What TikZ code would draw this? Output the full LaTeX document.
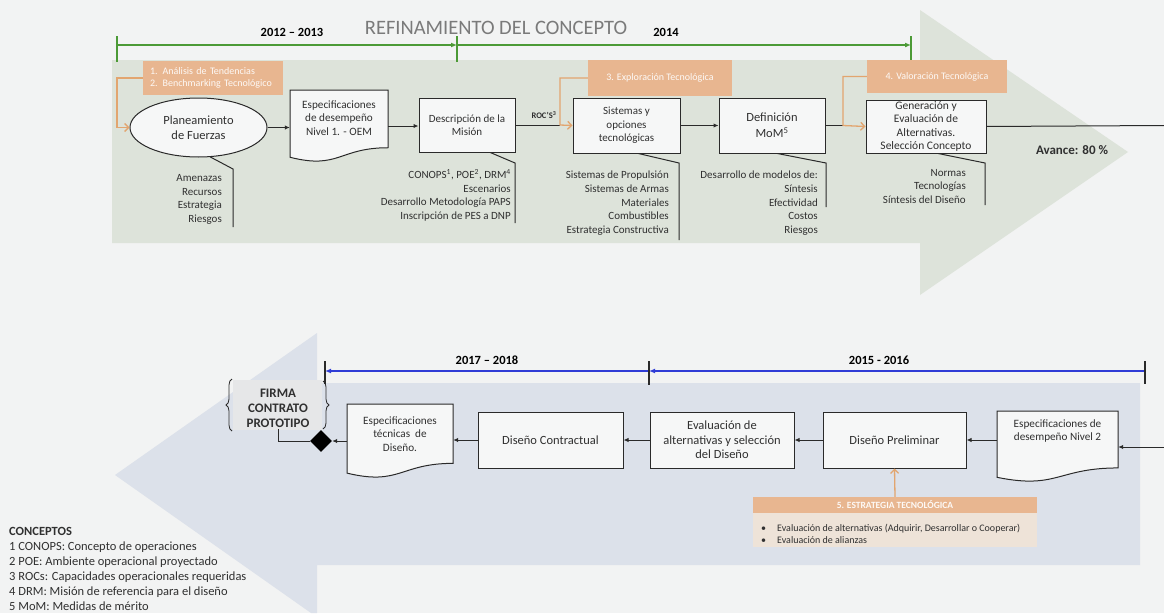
\documentclass[tikz,border=0pt]{standalone}
\usepackage{fontspec}
\setmainfont{Carlito}
\usetikzlibrary{arrows.meta,shapes.geometric,decorations.pathreplacing,calc}
\definecolor{bg}{HTML}{F2F3F3}
\definecolor{topbody}{HTML}{DDE3DA}
\definecolor{botbody}{HTML}{DCE1EA}
\definecolor{boxfill}{HTML}{F6F7F7}
\definecolor{boxline}{HTML}{2A2A2A}
\definecolor{txt}{HTML}{303030}
\definecolor{orng}{HTML}{E8B690}
\definecolor{orline}{HTML}{E2A56F}
\definecolor{orlight}{HTML}{EEE3D8}
\definecolor{grn}{HTML}{4C9A36}
\definecolor{blu}{HTML}{2F3CD6}
\definecolor{titlegray}{HTML}{7A7A7A}
\definecolor{firmafill}{HTML}{E6E7E8}
\newcommand\docshape[4]{%
  \draw[docst] (#1,#2) -- ({#1+#3},#2) -- ({#1+#3},{#2+0.802*#4})
    .. controls ({#1+0.5*#3},{#2+0.802*#4}) and ({#1+0.5*#3},{#2+1.107*#4}) ..
    (#1,{#2+0.934*#4}) -- cycle;}
\begin{document}
\begin{tikzpicture}[x=1pt,y=-1pt,
  bx/.style={draw=boxline, fill=boxfill, line width=1pt, align=center, inner sep=0pt, text=txt, font=\fontsize{11}{13.5}\selectfont},
  docst/.style={draw=boxline, fill=boxfill, line width=1pt},
  doctxt/.style={align=center, inner sep=0pt, text=txt, font=\fontsize{11.2}{13.5}\selectfont},
  ob/.style={fill=orng, text=white!92!orng, inner sep=0pt, font=\fontsize{10}{11.5}\selectfont},
  conn/.style={draw=boxline, line width=1pt, -{Latex[length=5pt,width=4.5pt]}},
  oconn/.style={draw=orline, line width=1.3pt, -{Straight Barb[length=4pt,width=8pt]}},
  call/.style={draw=boxline, line width=1pt},
  ctext/.style={align=right, inner sep=0pt, text=txt, anchor=north east, font=\fontsize{11}{13.6}\selectfont},
  yr/.style={inner sep=0pt, text=black, font=\bfseries\fontsize{12.5}{14}\selectfont},
  gline/.style={draw=grn, line width=2pt, -{Latex[length=6pt,width=5pt]}},
  gtick/.style={draw=grn, line width=1.5pt},
  bline/.style={draw=blu, line width=2pt, -{Latex[length=6pt,width=5pt]}},
  btick/.style={draw=boxline, line width=1.5pt}
]
\useasboundingbox (0,0) rectangle (1164,613);
\fill[bg] (0,0) rectangle (1164,613);
% big arrows
\fill[topbody] (112,60) -- (920,60) -- (920,10) -- (1128,152) -- (920,295) -- (920,243) -- (112,243) -- cycle;
\fill[botbody] (1140,383) -- (317,383) -- (317,333) -- (115,475) -- (311,613) -- (317,613) -- (317,565) -- (1140,565) -- cycle;

% green timeline
\coordinate (g0) at (117,45);
\coordinate (g1) at (457,45);
\coordinate (g2) at (911,45);
\draw[gline] (g0) -- (g1);
\draw[gline] (g1) -- (g2);
\draw[gtick] (117,36) -- (117,62);
\draw[gtick] (457,36) -- (457,62);
\draw[gtick] (911,36) -- (911,61);
\node[yr] (y1213) at (292,32) {2012 – 2013};
\node[inner sep=0pt, text=titlegray, font=\fontsize{20.5}{23}\selectfont] (title) at (496,28) {REFINAMIENTO DEL CONCEPTO};
\node[yr] (y14) at (666,32) {2014};

% top flow
\node[bx, shape=ellipse, minimum width=137pt, minimum height=59pt, font=\fontsize{12.5}{15.5}\selectfont] (ell) at (198.5,127.5) {Planeamiento\\de Fuerzas};
\node[inner sep=0pt, minimum width=98pt, minimum height=72pt] (doc1) at (339,126) {};
\docshape{290}{90}{98}{72}
\node[doctxt] (doc1t) at (339,118) {Especificaciones\\de desempeño\\Nivel 1. - OEM};
\node[bx, minimum width=96pt, minimum height=54pt] (desc) at (467,125) {Descripción de la\\Misión};
\node[bx, minimum width=107pt, minimum height=55pt] (sis) at (626.5,125.5) {Sistemas y\\opciones\\tecnológicas};
\node[bx, minimum width=106pt, minimum height=55pt, font=\fontsize{12.5}{16}\selectfont] (def) at (772,125.5) {Definición\\MoM\textsuperscript{5}};
\node[bx, minimum width=120pt, minimum height=53pt, font=\fontsize{11.5}{13.3}\selectfont] (gen) at (926,126.5) {Generación y\\Evaluación de\\Alternativas.\\Selección Concepto};

\node[ob, minimum width=140pt, minimum height=34pt, align=left, text width=126pt] (ob1) at (213,78) {1. Análisis de Tendencias\\2. Benchmarking Tecnológico};
\node[ob, minimum width=144pt, minimum height=36pt] (ob3) at (660,78) {3. Exploración Tecnológica};
\node[ob, minimum width=140pt, minimum height=33pt] (ob4) at (937,76.5) {4. Valoración Tecnológica};

\coordinate (j1) at (117,127.5);
\coordinate (j3) at (560,125);
\coordinate (j4) at (843,125.5);
\coordinate (rout) at (1164,125.5);
\draw[oconn] (ob1.west) -| (j1) -- (ell.west);
\draw[conn] (ell.east) -- (ell.east -| doc1.west);
\draw[conn] (doc1.east) -- (doc1.east -| desc.west);
\draw[call] (desc.east) -- (j3);
\draw[oconn] (ob3.west) -| (j3) -- (sis.west);
\draw[conn] (sis.east) -- (def.west);
\draw[call] (def.east) -- (j4);
\draw[oconn] (ob4.west) -| (j4) -- (gen.west);
\draw[call] (gen.east) -- (rout);
\node[inner sep=0pt, text=txt, font=\bfseries\fontsize{8.5}{10}\selectfont] (roc) at (544,115) {ROC'S\textsuperscript{3}};
\node[inner sep=0pt, text=txt, font=\bfseries\fontsize{13}{15}\selectfont] (avance) at (1072,150) {Avance: 80 \%};

% callouts
\draw[call] (ell.-68) -- (233,169) -- (233,227);
\node[ctext] (c1) at (222,174.5) {Amenazas\\Recursos\\Estrategia\\Riesgos};
\draw[call] ($(desc.south west)!0.74!(desc.south east)$) -- (515,163) -- (515,223);
\node[ctext] (c2) at (511,169.5) {CONOPS\textsuperscript{1}, POE\textsuperscript{2}, DRM\textsuperscript{4}\\Escenarios\\Desarrollo Metodología PAPS\\Inscripción de PES a DNP};
\draw[call] ($(sis.south west)!0.61!(sis.south east)$) -- (679,163) -- (679,240);
\node[ctext] (c3) at (669,171) {Sistemas de Propulsión\\Sistemas de Armas\\Materiales\\Combustibles\\Estrategia Constructiva};
\draw[call] ($(def.south west)!0.55!(def.south east)$) -- (826,163) -- (826,207);
\node[ctext] (c4) at (818,171) {Desarrollo de modelos de:\\Síntesis\\Efectividad\\Costos\\Riesgos};
\draw[call] ($(gen.south west)!0.6!(gen.south east)$) -- (985,163) -- (985,205);
\node[ctext] (c5) at (966,169) {Normas\\Tecnologías\\Síntesis del Diseño};

% blue timeline
\coordinate (b0) at (1145,371);
\coordinate (b1) at (649,371);
\coordinate (b2) at (325,371);
\draw[bline] (b0) -- (b1);
\draw[bline] (b1) -- (b2);
\draw[btick] (325,361) -- (325,384);
\draw[btick] (649,361) -- (649,385);
\draw[btick] (1145,361) -- (1145,384);
\node[yr] (y1718) at (487,360) {2017 – 2018};
\node[yr] (y1516) at (879,360) {2015 - 2016};

% bottom flow
\node[inner sep=0pt, minimum width=121pt, minimum height=71pt] (doc2) at (1057.5,446.5) {};
\docshape{997}{411}{121}{71}
\node[doctxt] (doc2t) at (1057.5,431) {Especificaciones de\\desempeño Nivel 2};
\node[bx, minimum width=143pt, minimum height=56pt, font=\fontsize{12.5}{14.5}\selectfont] (prel) at (894.5,440) {Diseño Preliminar};
\node[bx, minimum width=144pt, minimum height=56pt, font=\fontsize{12.5}{14.5}\selectfont] (eval) at (722,440) {Evaluación de\\alternativas y selección\\del Diseño};
\node[bx, minimum width=145pt, minimum height=56pt, font=\fontsize{12.5}{14.5}\selectfont] (contr) at (550.5,440) {Diseño Contractual};
\node[inner sep=0pt, minimum width=106pt, minimum height=74pt] (doc3) at (400,441) {};
\docshape{347}{404}{106}{74}
\node[doctxt] (doc3t) at (400,434) {Especificaciones\\técnicas~~de\\Diseño.};
\node[shape=diamond, fill=black, inner sep=0pt, minimum width=22pt, minimum height=22pt] (dia) at (321,441) {};

\fill[firmafill] (233,380) rectangle (322,430);
\draw[draw=boxline, line width=0.8pt, decorate, decoration={brace, amplitude=6pt}] (232,431) -- (232,379);
\draw[draw=boxline, line width=0.8pt, decorate, decoration={brace, amplitude=6pt}] (323,381) -- (323,429);
\node[align=center, inner sep=1.5pt, text=txt, font=\bfseries\fontsize{13}{15}\selectfont] (firma) at (278,408) {FIRMA\\CONTRATO\\PROTOTIPO};

\coordinate (rin) at (1164,447);
\draw[conn] (rin) -- (rin -| doc2.east);
\draw[conn] (prel.east -| doc2.west) -- (prel.east);
\draw[conn] (prel.west) -- (eval.east);
\draw[conn] (eval.west) -- (contr.east);
\draw[conn] (contr.west) -- (contr.west -| doc3.east);
\draw[conn] (doc3.west) -- (dia.east);
\draw[call] (dia.west) -| (firma.south);

% strategy box
\node[fill=orlight, inner sep=0pt, minimum width=284pt, minimum height=34pt] (ob5b) at (895,530) {};
\node[ob, minimum width=284pt, minimum height=16pt, font=\bfseries\fontsize{9.5}{11}\selectfont] (ob5) at (895,505) {5. ESTRATEGIA TECNOLÓGICA};
\node[anchor=west, align=left, inner sep=0pt, text=txt, font=\fontsize{10}{12}\selectfont] (ob5t) at (761,533.5) {\makebox[16pt][l]{•}Evaluación de alternativas (Adquirir, Desarrollar o Cooperar)\\\makebox[16pt][l]{•}Evaluación de alianzas};
\draw[oconn] (ob5.north) -- (prel.south);

% legend
\node[anchor=north west, align=left, inner sep=0pt, text=txt, font=\fontsize{12.5}{15}\selectfont] (leg) at (9,527) {\textbf{CONCEPTOS}\\1 CONOPS: Concepto de operaciones\\2 POE: Ambiente operacional proyectado\\3 ROCs: Capacidades operacionales requeridas\\4 DRM: Misión de referencia para el diseño\\5 MoM: Medidas de mérito};
\end{tikzpicture}
\end{document}
